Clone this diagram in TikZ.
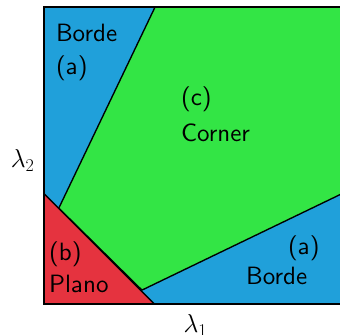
\documentclass[tikz,border=0pt]{standalone}
\usetikzlibrary{positioning}
\definecolor{bordeblue}{HTML}{20A0DA}
\definecolor{cornergreen}{HTML}{33E545}
\definecolor{planored}{HTML}{E5333F}
\font\lblfont=cmss10 at 24pt

\begin{document}
\begin{tikzpicture}[
    every node/.style={font=\fontsize{24}{31}\selectfont\lblfont},
    region/.style={draw=black, line width=1.3pt, fill=#1, line join=round},
    lbl/.style={anchor=north west, inner sep=0pt, align=left},
  ]
  \useasboundingbox (-1.48,-1.04) rectangle (9.97,10.24);

  % box and regions
  \coordinate (o) at (0,0);
  \coordinate (ne) at (10,10);
  \fill[bordeblue] (o) rectangle (ne);
  \coordinate (g1) at (3.74,10);
  \coordinate (g2) at (10,3.70);
  \coordinate (g3) at (3.30,0.47);
  \coordinate (g4) at (0.50,3.23);
  \filldraw[region=cornergreen] (g1) -- (ne) -- (g2) -- (g3) -- (g4) -- cycle;
  \coordinate (r1) at (0,3.72);
  \coordinate (r2) at (3.72,0);
  \filldraw[region=planored] (r1) -- (o) -- (r2) -- cycle;
  \draw[line width=1.5pt] (o) rectangle (ne);

  % labels
  \node[lbl] (bordeA) at (0.40,9.42) {Borde\\(a)};
  \node[lbl] (corner) at (4.61,7.33) {(c)\\[4pt]Corner};
  \node[lbl] (plano) at (0.17,2.12) {(b)\\Plano};
  \node[lbl] (bordeB) at (8.22,2.32) {(a)};
  \node[lbl] (bordeC) at (6.80,1.25) {Borde};

  % axes
  \node (lamx) at (5.1,-0.72) {$\lambda_1$};
  \node (lamy) at (-0.72,4.85) {$\lambda_2$};
\end{tikzpicture}
\end{document}
